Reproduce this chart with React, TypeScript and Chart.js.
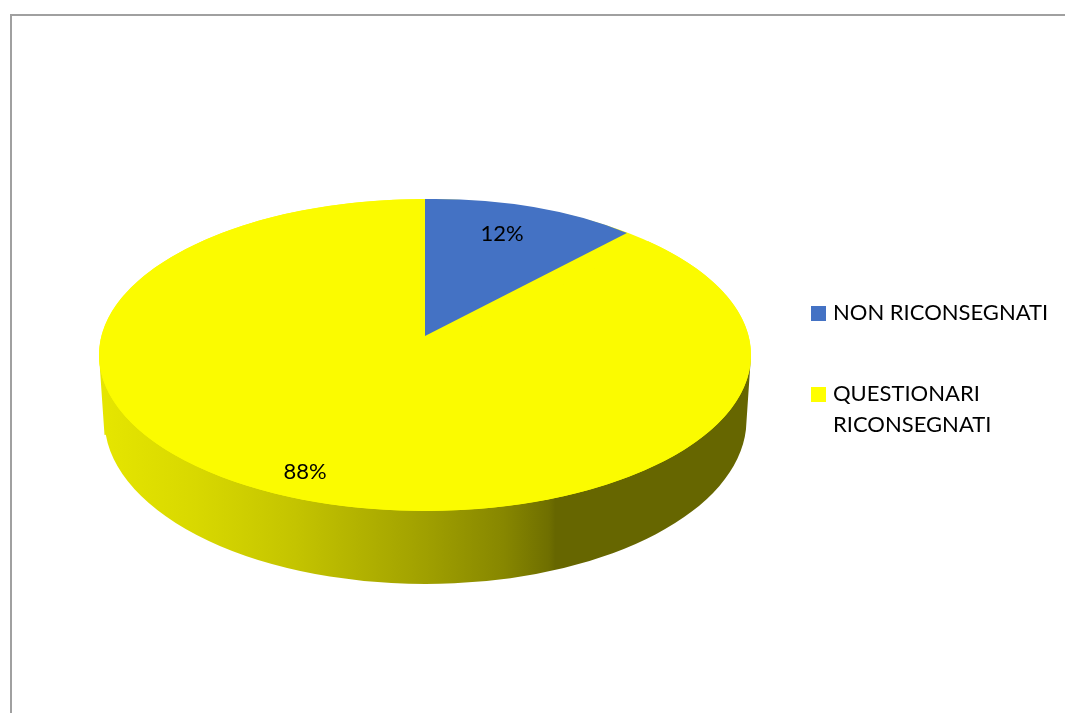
import React, { useEffect, useRef } from "react";
import { Chart, registerables } from "chart.js";

Chart.register(...registerables);

const categories = ["NON RICONSEGNATI", "QUESTIONARI RICONSEGNATI"];
const legendLines = [["NON RICONSEGNATI"], ["QUESTIONARI", "RICONSEGNATI"]];
const values = [12, 88];
const sliceColors = ["#4472C4", "#FBFB00"];
const legendColors = ["#4472C4", "#FFFF00"];
const percentLabels = ["12%", "88%"];

const FONT = "Lato, Carlito, 'Open Sans', sans-serif";
const W = 1065;
const H = 713;
const TOP = { cx: 425, cy: 355, rx: 326, ry: 156 };
const BOTTOM = { cx: 425.5, cy: 420, rx: 321, ry: 164 };

// Unit-circle → page mapping [a, b, c, d, tx, ty] of each slice (imitates the 3D perspective)
const sliceMaps = [
  [295, -4.5, 0, 137, 425, 336],
  [TOP.rx, 0, 0, TOP.ry, TOP.cx, TOP.cy],
];
const labelPositions = [
  [502, 234],
  [305, 472],
];
const wallStops: [number, string][] = [
  [0, "#e6e600"],
  [0.15, "#d8d800"],
  [0.3, "#c4c400"],
  [0.5, "#a0a000"],
  [0.62, "#878700"],
  [0.69, "#6f6f00"],
  [0.7, "#666600"],
  [1, "#666600"],
];

const pie3d = {
  id: "pie3d",
  beforeDraw(chart: any) {
    const { ctx } = chart;
    ctx.save();
    ctx.fillStyle = "#ffffff";
    ctx.fillRect(0, 0, W, H);
    ctx.strokeStyle = "#a0a0a0";
    ctx.lineWidth = 2;
    ctx.beginPath();
    ctx.moveTo(11, H);
    ctx.lineTo(11, 15);
    ctx.lineTo(W, 15);
    ctx.stroke();
    ctx.restore();
  },
  beforeDatasetsDraw(chart: any) {
    const { ctx } = chart;
    const x0 = TOP.cx - TOP.rx;
    const x1 = TOP.cx + TOP.rx;
    ctx.save();
    const g = ctx.createLinearGradient(x0, 0, x1, 0);
    wallStops.forEach(([s, c]) => g.addColorStop(s, c));
    ctx.fillStyle = g;
    ctx.beginPath();
    ctx.moveTo(x0, TOP.cy);
    ctx.lineTo(BOTTOM.cx - BOTTOM.rx, BOTTOM.cy + 15);
    ctx.ellipse(BOTTOM.cx, BOTTOM.cy, BOTTOM.rx, BOTTOM.ry, 0, Math.PI - 0.09, 0.06, true);
    ctx.lineTo(x1, TOP.cy);
    ctx.closePath();
    ctx.fill();
    ctx.fillStyle = chart.data.datasets[0].backgroundColor[1];
    ctx.beginPath();
    ctx.ellipse(TOP.cx, TOP.cy, TOP.rx, TOP.ry, 0, 0, Math.PI * 2);
    ctx.fill();
    ctx.restore();

    // every arc is drawn by the library, through its own affine map
    chart.getDatasetMeta(0).data.forEach((el: any, i: number) => {
      const proto = Object.getPrototypeOf(el);
      el.draw = function (c: any, area: any) {
        const [a, b, cc, d, tx, ty] = sliceMaps[i];
        const R = el.outerRadius;
        const A = a / R, B = b / R, C = cc / R, D = d / R;
        c.save();
        c.transform(A, B, C, D, tx - (A * el.x + C * el.y), ty - (B * el.x + D * el.y));
        proto.draw.call(el, c, area);
        c.restore();
      };
    });
  },
  afterDatasetsDraw(chart: any) {
    const { ctx } = chart;
    ctx.save();
    ctx.fillStyle = "#000000";
    ctx.textBaseline = "middle";
    ctx.textAlign = "center";
    ctx.font = `22px ${FONT}`;
    percentLabels.forEach((t, i) => ctx.fillText(t, labelPositions[i][0], labelPositions[i][1]));

    ctx.textAlign = "left";
    const rows = [313, 394];
    legendLines.forEach((lines, i) => {
      ctx.fillStyle = legendColors[i];
      ctx.fillRect(811, rows[i] - 7, 15, 15);
      ctx.fillStyle = "#000000";
      lines.forEach((t, j) => ctx.fillText(t, 833, rows[i] + j * 31));
    });
    ctx.restore();
  },
};

export default function App() {
  const ref = useRef<HTMLCanvasElement>(null);
  useEffect(() => {
    const chart = new Chart(ref.current as HTMLCanvasElement, {
      type: "pie",
      data: {
        labels: categories,
        datasets: [{ data: values, backgroundColor: sliceColors, borderWidth: 0 }],
      },
      options: {
        animation: false,
        responsive: false,
        devicePixelRatio: 1,
        plugins: { legend: { display: false }, tooltip: { enabled: false } },
      },
      plugins: [pie3d],
    } as any);
    return () => chart.destroy();
  }, []);
  return (
    <div style={{ position: "absolute", left: 0, top: 0, width: W, height: H, overflow: "hidden" }}>
      <canvas ref={ref} width={W} height={H} style={{ display: "block", width: W, height: H }} />
    </div>
  );
}
